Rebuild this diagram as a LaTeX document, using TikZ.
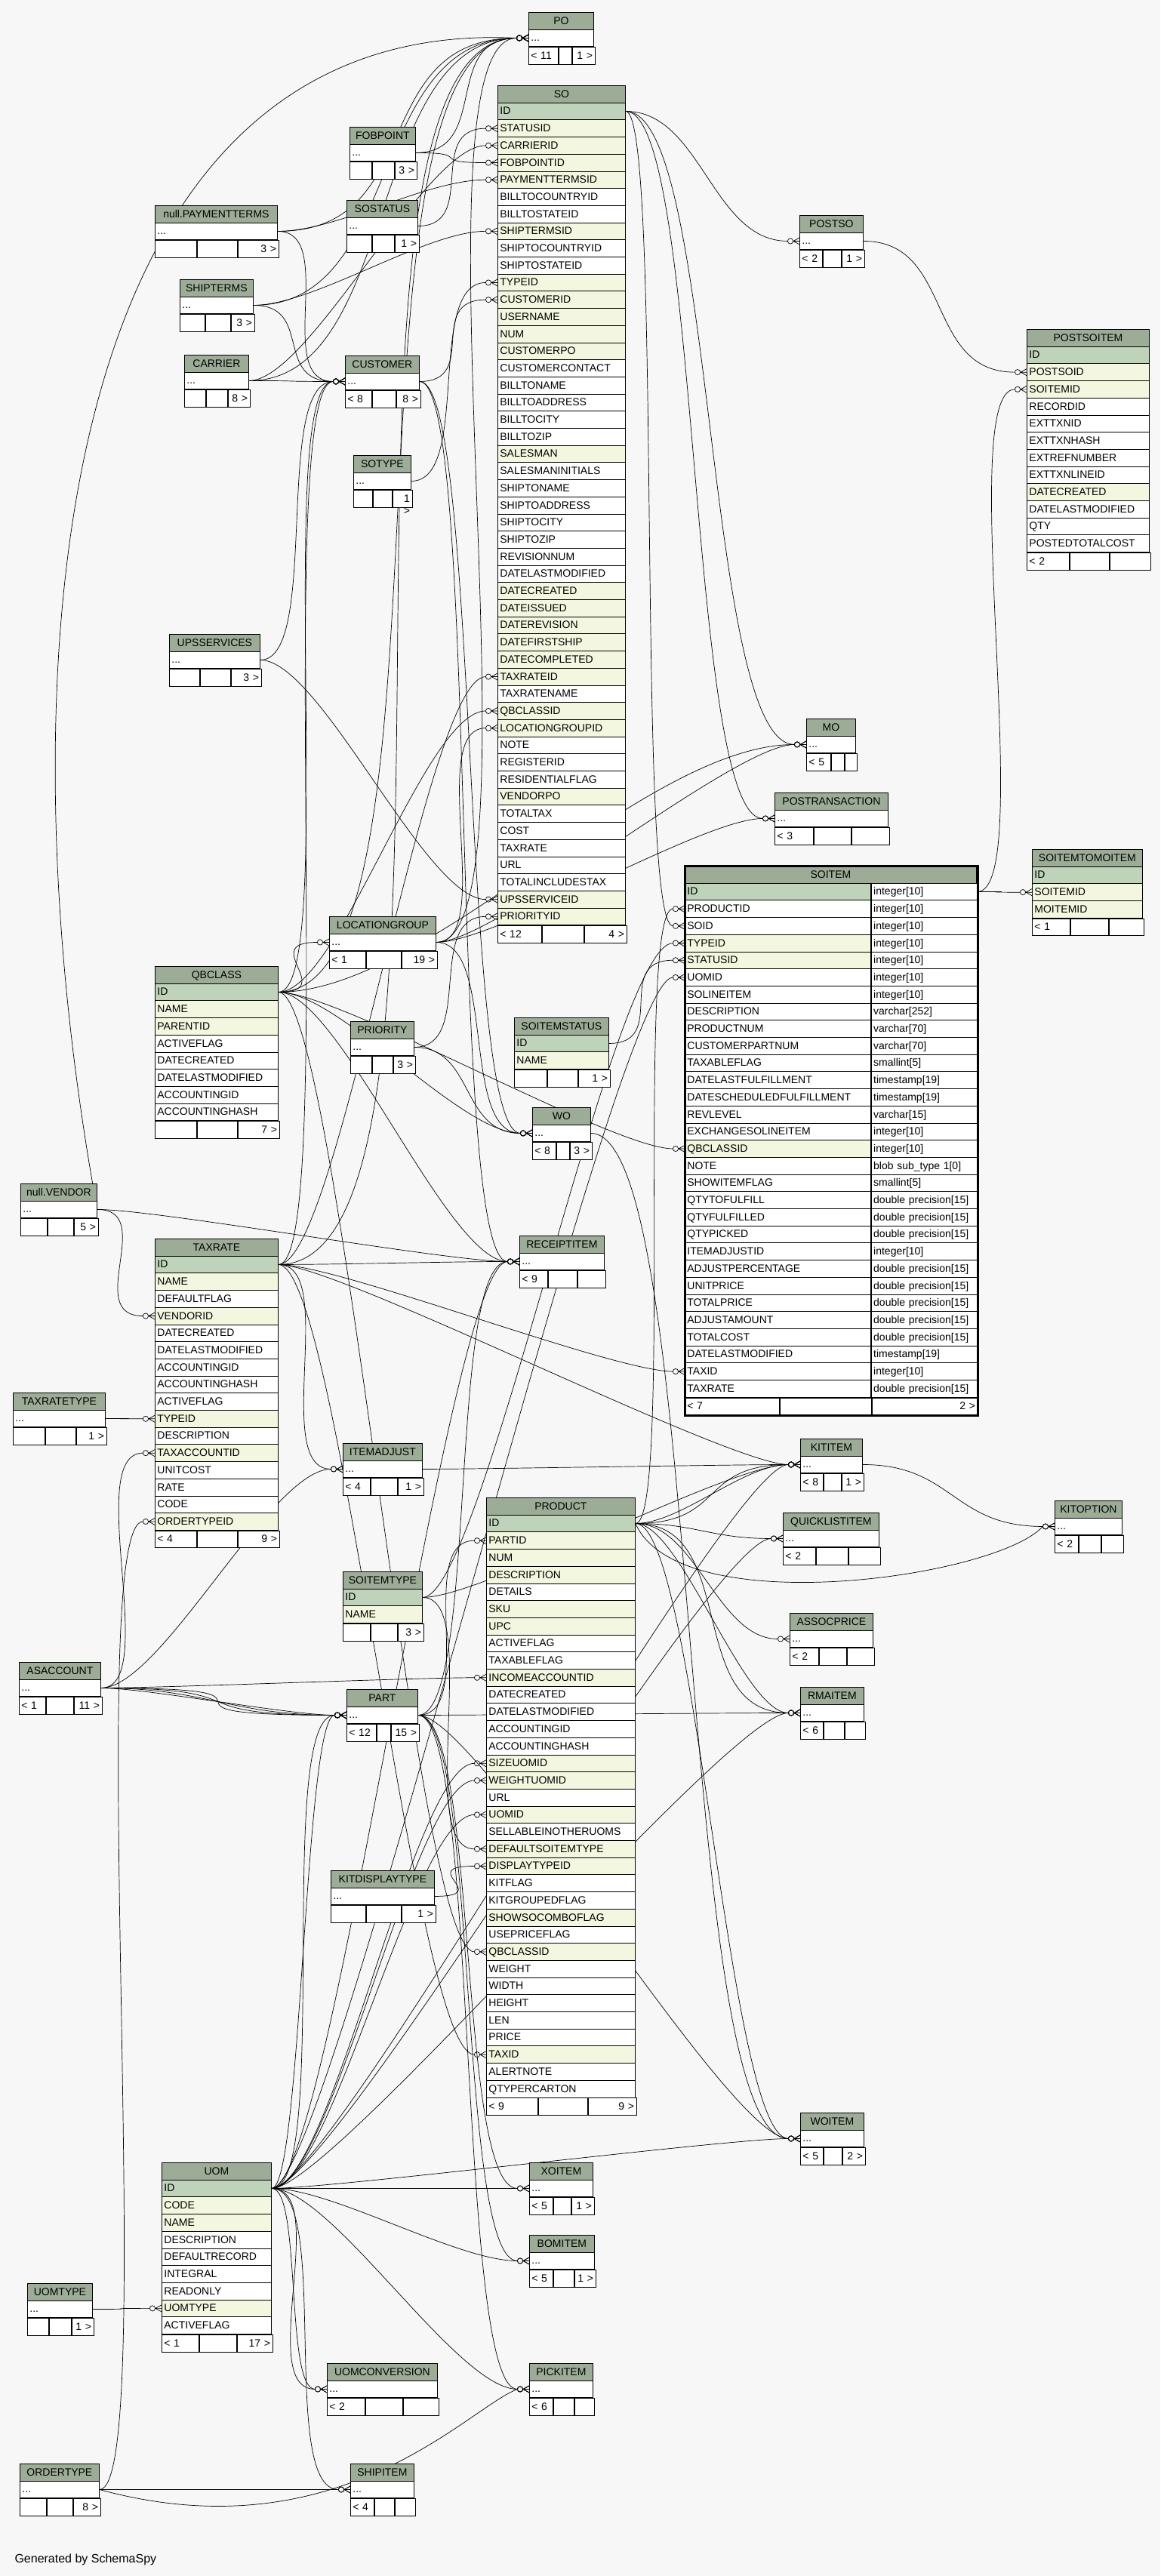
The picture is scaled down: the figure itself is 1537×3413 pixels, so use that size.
\documentclass[tikz,border=0pt]{standalone}
\usepackage{fontspec}
\setmainfont{Liberation Sans}
\usetikzlibrary{positioning}

\definecolor{canvas}{HTML}{F7F7F7}
\definecolor{hdrc}{HTML}{9DAC97}
\definecolor{pkc}{HTML}{BFD2BA}
\definecolor{fkc}{HTML}{F4F7DF}

\pgfdeclarelayer{back}
\pgfdeclarelayer{links}
\pgfsetlayers{back,links,main}

\newcommand{\tblfont}{\fontsize{14}{16}\selectfont}

% table with its columns: name, title, x, y, width, colour/column list
\newcommand{\ertable}[6]{%
  \pgfmathsetmacro{\tw}{#5-6}
  \node[hdr,text width=\tw pt] (#1) at (#3,#4) {#2};
  \foreach \rc/\rk [count=\ri] in {#6}{
    \node[cell,fill=\rc,text width=\tw pt] (#1-\rk) at (#3,#4+\ri*22.7) {\rk};
    \xdef\lastnode{#1-\rk}
  }
}
% collapsed table
\newcommand{\ersmall}[5]{%
  \pgfmathsetmacro{\tw}{#5-6}
  \node[hdr,text width=\tw pt] (#1) at (#3,#4) {#2};
  \node[cell,text width=\tw pt] (#1-r) at (#3,#4+22.7) {...};
  \xdef\lastnode{#1-r}%
}
% footer: name, three cell widths, left and right text
\newcommand{\erfoot}[6]{%
  \pgfmathsetmacro{\fa}{#2-6}
  \pgfmathsetmacro{\fc}{#4-6}
  \node[cell,text width=\fa pt] (#1-fl) at (\lastnode.south west) {#5};
  \node[cell,minimum width=#3pt] (#1-fm) at (#1-fl.north east) {};
  \node[cell,text width=\fc pt,align=right] (#1-fr) at (#1-fm.north east) {#6};
}
% zero-or-many end at the west side of a row
\newcommand{\crow}[1]{%
  \draw[rel] ([xshift=-8.4pt]#1.west) -- (#1.west)
    ([xshift=-8pt]#1.west) -- ([yshift=4.5pt]#1.west)
    ([xshift=-8pt]#1.west) -- ([yshift=-4.5pt]#1.west);
  \draw[rel] ([xshift=-12pt]#1.west) circle[radius=3.6pt];
}
% relation parent -> child; optional: horizontal pull of the curve
\newcommand{\fk}[3][80]{%
  \draw[rel] (#2.east) .. controls +(#1,0) and +(-#1,0) .. ([xshift=-15.6pt]#3.west);
  \crow{#3}
}

\begin{document}
\begin{tikzpicture}[x=1pt,y=-1pt,
    cell/.style={draw,fill=white,line width=0.8pt,anchor=north west,minimum height=22.7pt,
      inner xsep=3pt,inner ysep=0pt,text height=10pt,text depth=1pt,align=left,font=\tblfont},
    hdr/.style={cell,fill=hdrc,align=center},
    rel/.style={line width=0.7pt}]

\begin{pgfonlayer}{back}
  \fill[canvas] (0,0) rectangle (1537,3413);
\end{pgfonlayer}
\useasboundingbox (0,0) rectangle (1537,3413);

% collapsed tables
\ersmall{PO}{PO}{700}{16}{86}\erfoot{PO}{39}{17}{30}{< 11}{1 >}
\ersmall{FOBPOINT}{FOBPOINT}{463}{168}{87}\erfoot{FOBPOINT}{29}{29}{29}{}{3 >}
\ersmall{SOSTATUS}{SOSTATUS}{459}{265}{94}\erfoot{SOSTATUS}{33}{29}{32}{}{1 >}
\ersmall{PAYTERMS}{null.PAYMENTTERMS}{205}{272}{162}\erfoot{PAYTERMS}{55}{53}{54}{}{3 >}
\ersmall{SHIPTERMS}{SHIPTERMS}{238}{370}{97}\erfoot{SHIPTERMS}{33}{33}{31}{}{3 >}
\ersmall{CARRIER}{CARRIER}{244}{470}{85}\erfoot{CARRIER}{28}{28}{29}{}{8 >}
\ersmall{CUSTOMER}{CUSTOMER}{457}{471}{98}\erfoot{CUSTOMER}{35}{31}{32}{< 8}{8 >}
\ersmall{SOTYPE}{SOTYPE}{468}{603}{76}\erfoot{SOTYPE}{25}{25}{26}{}{1 >}
\ersmall{POSTSO}{POSTSO}{1059}{285}{84}\erfoot{POSTSO}{30}{24}{30}{< 2}{1 >}
\ersmall{UPSSERVICES}{UPSSERVICES}{224}{840}{120}\erfoot{UPSSERVICES}{40}{40}{40}{}{3 >}
\ersmall{MO}{MO}{1068}{952}{65}\erfoot{MO}{32}{17}{16}{< 5}{}
\ersmall{POSTRANSACTION}{POSTRANSACTION}{1026}{1050}{150}\erfoot{POSTRANSACTION}{51}{49}{50}{< 3}{}
\ersmall{LOCATIONGROUP}{LOCATIONGROUP}{436}{1214}{141}\erfoot{LOCATIONGROUP}{48}{46}{47}{< 1}{19 >}
\ersmall{PRIORITY}{PRIORITY}{464}{1353}{84}\erfoot{PRIORITY}{28}{27}{29}{}{3 >}
\ersmall{WO}{WO}{705}{1467}{77}\erfoot{WO}{31}{17}{29}{< 8}{3 >}
\ersmall{RECEIPTITEM}{RECEIPTITEM}{688}{1637}{112}\erfoot{RECEIPTITEM}{37}{38}{37}{< 9}{}
\ersmall{VENDOR}{null.VENDOR}{27}{1568}{101}\erfoot{VENDOR}{35}{34}{32}{}{5 >}
\ersmall{TAXRATETYPE}{TAXRATETYPE}{17}{1845}{122}\erfoot{TAXRATETYPE}{42}{40}{40}{}{1 >}
\ersmall{ITEMADJUST}{ITEMADJUST}{454}{1912}{105}\erfoot{ITEMADJUST}{36}{35}{34}{< 4}{1 >}
\ersmall{KITITEM}{KITITEM}{1060}{1906}{82}\erfoot{KITITEM}{30}{23}{29}{< 8}{1 >}
\ersmall{QUICKLISTITEM}{QUICKLISTITEM}{1037}{2004}{127}\erfoot{QUICKLISTITEM}{43}{42}{42}{< 2}{}
\ersmall{KITOPTION}{KITOPTION}{1397}{1988}{89}\erfoot{KITOPTION}{31}{29}{29}{< 2}{}
\ersmall{ASSOCPRICE}{ASSOCPRICE}{1046}{2137}{110}\erfoot{ASSOCPRICE}{38}{36}{36}{< 2}{}
\ersmall{RMAITEM}{RMAITEM}{1060}{2235}{84}\erfoot{RMAITEM}{30}{27}{27}{< 6}{}
\ersmall{ASACCOUNT}{ASACCOUNT}{25}{2202}{108}\erfoot{ASACCOUNT}{35}{36}{37}{< 1}{11 >}
\ersmall{PART}{PART}{459}{2238}{94}\erfoot{PART}{39}{18}{37}{< 12}{15 >}
\ersmall{KITDISPLAYTYPE}{KITDISPLAYTYPE}{438}{2478}{137}\erfoot{KITDISPLAYTYPE}{46}{46}{45}{}{1 >}
\ersmall{WOITEM}{WOITEM}{1060}{2799}{84}\erfoot{WOITEM}{30}{24}{30}{< 5}{2 >}
\ersmall{XOITEM}{XOITEM}{701}{2865}{84}\erfoot{XOITEM}{31}{23}{30}{< 5}{1 >}
\ersmall{BOMITEM}{BOMITEM}{701}{2961}{86}\erfoot{BOMITEM}{31}{27}{28}{< 5}{1 >}
\ersmall{UOMTYPE}{UOMTYPE}{36}{3025}{86}\erfoot{UOMTYPE}{28}{29}{29}{}{1 >}
\ersmall{UOMCONVERSION}{UOMCONVERSION}{433}{3131}{146}\erfoot{UOMCONVERSION}{50}{49}{47}{< 2}{}
\ersmall{PICKITEM}{PICKITEM}{701}{3131}{84}\erfoot{PICKITEM}{31}{27}{26}{< 6}{}
\ersmall{ORDERTYPE}{ORDERTYPE}{26}{3264}{105}\erfoot{ORDERTYPE}{35}{34}{36}{}{8 >}
\ersmall{SHIPITEM}{SHIPITEM}{464}{3264}{84}\erfoot{SHIPITEM}{31}{26}{27}{< 4}{}

% tables with columns
\ertable{SO}{SO}{659}{113}{169}{pkc/ID,fkc/STATUSID,fkc/CARRIERID,fkc/FOBPOINTID,fkc/PAYMENTTERMSID,
  white/BILLTOCOUNTRYID,white/BILLTOSTATEID,fkc/SHIPTERMSID,white/SHIPTOCOUNTRYID,white/SHIPTOSTATEID,
  fkc/TYPEID,fkc/CUSTOMERID,fkc/USERNAME,fkc/NUM,fkc/CUSTOMERPO,white/CUSTOMERCONTACT,white/BILLTONAME,
  white/BILLTOADDRESS,white/BILLTOCITY,white/BILLTOZIP,fkc/SALESMAN,white/SALESMANINITIALS,white/SHIPTONAME,
  white/SHIPTOADDRESS,white/SHIPTOCITY,white/SHIPTOZIP,white/REVISIONNUM,white/DATELASTMODIFIED,
  fkc/DATECREATED,fkc/DATEISSUED,fkc/DATEREVISION,fkc/DATEFIRSTSHIP,fkc/DATECOMPLETED,fkc/TAXRATEID,
  white/TAXRATENAME,fkc/QBCLASSID,fkc/LOCATIONGROUPID,white/NOTE,white/REGISTERID,white/RESIDENTIALFLAG,
  fkc/VENDORPO,white/TOTALTAX,white/COST,white/TAXRATE,white/URL,white/TOTALINCLUDESTAX,
  fkc/UPSSERVICEID,fkc/PRIORITYID}
\erfoot{SO}{58}{55}{56}{< 12}{4 >}

\ertable{POSTSOITEM}{POSTSOITEM}{1360}{436}{162}{pkc/ID,fkc/POSTSOID,fkc/SOITEMID,white/RECORDID,
  white/EXTTXNID,white/EXTTXNHASH,white/EXTREFNUMBER,white/EXTTXNLINEID,fkc/DATECREATED,
  white/DATELASTMODIFIED,white/QTY,white/POSTEDTOTALCOST}
\erfoot{POSTSOITEM}{56}{52}{54}{< 2}{}

\ertable{SOITEMTOMOITEM}{SOITEMTOMOITEM}{1367}{1125}{146}{pkc/ID,fkc/SOITEMID,fkc/MOITEMID}
\erfoot{SOITEMTOMOITEM}{50}{50}{46}{< 1}{}

\ertable{SOITEMSTATUS}{SOITEMSTATUS}{681}{1348}{125}{pkc/ID,fkc/NAME}
\erfoot{SOITEMSTATUS}{43}{40}{42}{}{1 >}

\ertable{SOITEMTYPE}{SOITEMTYPE}{454}{2082}{105}{pkc/ID,fkc/NAME}
\erfoot{SOITEMTYPE}{36}{35}{34}{}{3 >}

\ertable{QBCLASS}{QBCLASS}{205}{1280}{163}{pkc/ID,fkc/NAME,fkc/PARENTID,white/ACTIVEFLAG,
  white/DATECREATED,white/DATELASTMODIFIED,white/ACCOUNTINGID,white/ACCOUNTINGHASH}
\erfoot{QBCLASS}{55}{53}{55}{}{7 >}

\ertable{TAXRATE}{TAXRATE}{205}{1641}{163}{pkc/ID,fkc/NAME,white/DEFAULTFLAG,fkc/VENDORID,
  white/DATECREATED,white/DATELASTMODIFIED,white/ACCOUNTINGID,white/ACCOUNTINGHASH,white/ACTIVEFLAG,
  fkc/TYPEID,white/DESCRIPTION,fkc/TAXACCOUNTID,white/UNITCOST,white/RATE,white/CODE,fkc/ORDERTYPEID}
\erfoot{TAXRATE}{55}{53}{55}{< 4}{9 >}

\ertable{PRODUCT}{PRODUCT}{644}{1984}{197}{pkc/ID,fkc/PARTID,fkc/NUM,fkc/DESCRIPTION,white/DETAILS,
  fkc/SKU,fkc/UPC,white/ACTIVEFLAG,white/TAXABLEFLAG,fkc/INCOMEACCOUNTID,white/DATECREATED,
  white/DATELASTMODIFIED,white/ACCOUNTINGID,white/ACCOUNTINGHASH,fkc/SIZEUOMID,fkc/WEIGHTUOMID,
  white/URL,fkc/UOMID,white/SELLABLEINOTHERUOMS,fkc/DEFAULTSOITEMTYPE,fkc/DISPLAYTYPEID,white/KITFLAG,
  white/KITGROUPEDFLAG,fkc/SHOWSOCOMBOFLAG,white/USEPRICEFLAG,fkc/QBCLASSID,white/WEIGHT,white/WIDTH,
  white/HEIGHT,white/LEN,white/PRICE,fkc/TAXID,white/ALERTNOTE,white/QTYPERCARTON}
\erfoot{PRODUCT}{68}{65}{64}{< 9}{9 >}

\ertable{UOM}{UOM}{214}{2865}{145}{pkc/ID,fkc/CODE,fkc/NAME,white/DESCRIPTION,white/DEFAULTRECORD,
  white/INTEGRAL,white/READONLY,fkc/UOMTYPE,white/ACTIVEFLAG}
\erfoot{UOM}{49}{49}{47}{< 1}{17 >}

% SOITEM with types
\node[hdr,text width=380pt] (SOITEM) at (907,1147) {SOITEM};
\foreach \rc/\rk/\rt [count=\ri] in {pkc/ID/integer[10],white/PRODUCTID/integer[10],
  white/SOID/integer[10],fkc/TYPEID/integer[10],fkc/STATUSID/integer[10],white/UOMID/integer[10],
  white/SOLINEITEM/integer[10],white/DESCRIPTION/varchar[252],white/PRODUCTNUM/varchar[70],
  white/CUSTOMERPARTNUM/varchar[70],white/TAXABLEFLAG/smallint[5],white/DATELASTFULFILLMENT/timestamp[19],
  white/DATESCHEDULEDFULFILLMENT/timestamp[19],white/REVLEVEL/varchar[15],
  white/EXCHANGESOLINEITEM/integer[10],fkc/QBCLASSID/integer[10],white/NOTE/blob sub\_type 1[0],
  white/SHOWITEMFLAG/smallint[5],white/QTYTOFULFILL/double precision[15],
  white/QTYFULFILLED/double precision[15],white/QTYPICKED/double precision[15],
  white/ITEMADJUSTID/integer[10],white/ADJUSTPERCENTAGE/double precision[15],
  white/UNITPRICE/double precision[15],white/TOTALPRICE/double precision[15],
  white/ADJUSTAMOUNT/double precision[15],white/TOTALCOST/double precision[15],
  white/DATELASTMODIFIED/timestamp[19],white/TAXID/integer[10],white/TAXRATE/double precision[15]}{
  \node[cell,fill=\rc,text width=240pt] (SOITEM-\rk) at (907,1147+\ri*22.7) {\rk};
  \node[cell,text width=134pt] (SOITEM-\rk-t) at (SOITEM-\rk.north east) {\rt};
}
\xdef\lastnode{SOITEM-TAXRATE}
\erfoot{SOITEM}{125}{121}{140}{< 7}{2 >}
\draw[line width=3pt] (SOITEM.north west) rectangle (SOITEM-fr.south east);

\node[anchor=west,font=\fontsize{16}{18}\selectfont] (credit) at (16,3391) {Generated by SchemaSpy};

\begin{pgfonlayer}{links}
% SO
\fk{SOSTATUS-r}{SO-STATUSID}
\fk{CARRIER-r}{SO-CARRIERID}
\fk{FOBPOINT-r}{SO-FOBPOINTID}
\fk{PAYTERMS-r}{SO-PAYMENTTERMSID}
\fk{SHIPTERMS-r}{SO-SHIPTERMSID}
\fk{SOTYPE-r}{SO-TYPEID}
\fk{CUSTOMER-r}{SO-CUSTOMERID}
\fk{TAXRATE-ID}{SO-TAXRATEID}
\fk{QBCLASS-ID}{SO-QBCLASSID}
\fk{LOCATIONGROUP-r}{SO-LOCATIONGROUPID}
\fk{UPSSERVICES-r}{SO-UPSSERVICEID}
\fk{PRIORITY-r}{SO-PRIORITYID}
\fk[100]{SO-ID}{POSTSO-r}
\fk[120]{SO-ID}{MO-r}
\fk[100]{SO-ID}{POSTRANSACTION-r}
\fk[50]{SO-ID}{SOITEM-SOID}
% PO
\draw[rel] (VENDOR-r.east) .. controls (0,900) and (60,20) .. ([xshift=-15.6pt]PO-r.west);
\crow{PO-r}
\fk[200]{CARRIER-r}{PO-r}
\fk[100]{FOBPOINT-r}{PO-r}
\fk[200]{PAYTERMS-r}{PO-r}
\fk[200]{SHIPTERMS-r}{PO-r}
\fk[150]{LOCATIONGROUP-r}{PO-r}
\fk[250]{QBCLASS-ID}{PO-r}
\fk[300]{TAXRATE-ID}{PO-r}
% CUSTOMER
\fk{CARRIER-r}{CUSTOMER-r}
\fk{PAYTERMS-r}{CUSTOMER-r}
\fk{SHIPTERMS-r}{CUSTOMER-r}
\fk{QBCLASS-ID}{CUSTOMER-r}
\fk{TAXRATE-ID}{CUSTOMER-r}
\fk{UPSSERVICES-r}{CUSTOMER-r}
% LOCATIONGROUP, MO, WO
\fk{QBCLASS-ID}{LOCATIONGROUP-r}
\fk{LOCATIONGROUP-r}{MO-r}
\fk{LOCATIONGROUP-r}{POSTRANSACTION-r}
\fk{LOCATIONGROUP-r}{WO-r}
\fk[200]{QBCLASS-ID}{MO-r}
\fk{QBCLASS-ID}{WO-r}
\fk{PRIORITY-r}{WO-r}
\fk{CUSTOMER-r}{WO-r}
\fk[150]{WO-r}{WOITEM-r}
% TAXRATE
\fk{VENDOR-r}{TAXRATE-VENDORID}
\fk{TAXRATETYPE-r}{TAXRATE-TYPEID}
\fk{ASACCOUNT-r}{TAXRATE-TAXACCOUNTID}
\fk{ORDERTYPE-r}{TAXRATE-ORDERTYPEID}
% RECEIPTITEM
\fk{TAXRATE-ID}{RECEIPTITEM-r}
\fk{VENDOR-r}{RECEIPTITEM-r}
\fk{UOM-ID}{RECEIPTITEM-r}
\fk{PART-r}{RECEIPTITEM-r}
\fk{CUSTOMER-r}{RECEIPTITEM-r}
\fk{QBCLASS-ID}{RECEIPTITEM-r}
% ITEMADJUST, KITITEM, KITOPTION
\fk{ASACCOUNT-r}{ITEMADJUST-r}
\fk{TAXRATE-ID}{ITEMADJUST-r}
\fk{ITEMADJUST-r}{KITITEM-r}
\fk{TAXRATE-ID}{KITITEM-r}
\fk{SOITEMTYPE-ID}{KITITEM-r}
\fk{UOM-ID}{KITITEM-r}
\fk[60]{PRODUCT-ID}{KITITEM-r}
\fk[120]{PRODUCT-ID}{KITITEM-r}
\fk[120]{KITITEM-r}{KITOPTION-r}
\draw[rel] (PRODUCT-ID.east) .. controls (900,2150) and (1320,2090) .. ([xshift=-15.6pt]KITOPTION-r.west);
\crow{KITOPTION-r}
% PRODUCT
\fk{PART-r}{PRODUCT-PARTID}
\fk{ASACCOUNT-r}{PRODUCT-INCOMEACCOUNTID}
\fk{UOM-ID}{PRODUCT-SIZEUOMID}
\fk{UOM-ID}{PRODUCT-WEIGHTUOMID}
\fk{UOM-ID}{PRODUCT-UOMID}
\fk{SOITEMTYPE-ID}{PRODUCT-DEFAULTSOITEMTYPE}
\fk{KITDISPLAYTYPE-r}{PRODUCT-DISPLAYTYPEID}
\fk{QBCLASS-ID}{PRODUCT-QBCLASSID}
\fk{TAXRATE-ID}{PRODUCT-TAXID}
\fk{PRODUCT-ID}{QUICKLISTITEM-r}
\fk{PRODUCT-ID}{ASSOCPRICE-r}
\fk[60]{PRODUCT-ID}{RMAITEM-r}
\fk[140]{PRODUCT-ID}{RMAITEM-r}
\fk{PRODUCT-ID}{WOITEM-r}
% PART
\fk[60]{ASACCOUNT-r}{PART-r}
\fk[140]{ASACCOUNT-r}{PART-r}
\fk[220]{ASACCOUNT-r}{PART-r}
\fk[300]{ASACCOUNT-r}{PART-r}
\fk{UOM-ID}{PART-r}
\fk[40]{UOM-ID}{PART-r}
\fk{PART-r}{RMAITEM-r}
\fk{PART-r}{XOITEM-r}
\fk{PART-r}{BOMITEM-r}
\fk{PART-r}{PICKITEM-r}
\fk{PART-r}{WOITEM-r}
% UOM
\fk{UOMTYPE-r}{UOM-UOMTYPE}
\fk{UOM-ID}{XOITEM-r}
\fk{UOM-ID}{BOMITEM-r}
\fk[40]{UOM-ID}{UOMCONVERSION-r}
\fk[80]{UOM-ID}{UOMCONVERSION-r}
\fk{UOM-ID}{PICKITEM-r}
\fk{UOM-ID}{SHIPITEM-r}
\fk{UOM-ID}{WOITEM-r}
\fk{UOM-ID}{RMAITEM-r}
\fk{UOM-ID}{QUICKLISTITEM-r}
% ORDERTYPE
\fk{ORDERTYPE-r}{SHIPITEM-r}
\draw[rel] (ORDERTYPE-r.east) .. controls (450,3385) and (620,3190) .. ([xshift=-15.6pt]PICKITEM-r.west);
\crow{PICKITEM-r}
% SOITEM
\fk{SOITEM-ID-t}{POSTSOITEM-SOITEMID}
\fk{SOITEM-ID-t}{SOITEMTOMOITEM-SOITEMID}
\fk[120]{POSTSO-r}{POSTSOITEM-POSTSOID}
\fk[50]{PRODUCT-ID}{SOITEM-PRODUCTID}
\fk{SOITEMTYPE-ID}{SOITEM-TYPEID}
\fk{SOITEMSTATUS-ID}{SOITEM-STATUSID}
\fk{UOM-ID}{SOITEM-UOMID}
\fk{QBCLASS-ID}{SOITEM-QBCLASSID}
\fk{TAXRATE-ID}{SOITEM-TAXID}
\end{pgfonlayer}
\end{tikzpicture}
\end{document}
